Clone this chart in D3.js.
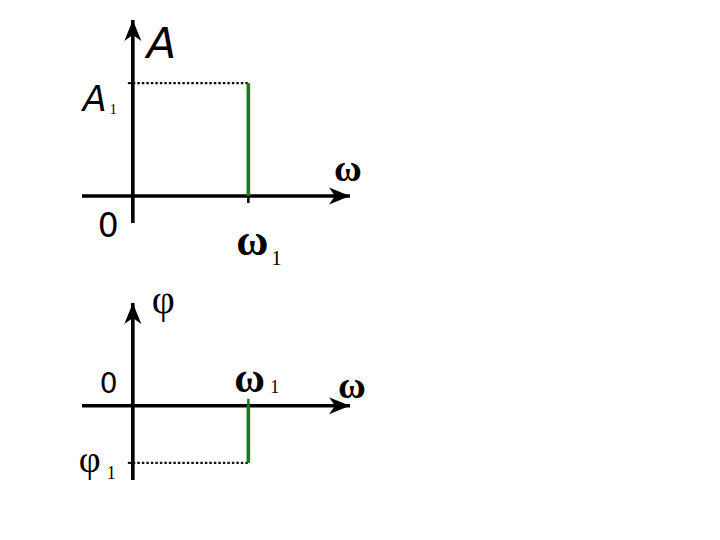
<!DOCTYPE html>
<html>
<head>
<meta charset="utf-8">
<script src="https://cdn.jsdelivr.net/npm/d3@7"></script>
<style>
  body { margin: 0; background: #fff; }
</style>
</head>
<body>
<div id="graph"></div>
<script>
// Spectrum data: one harmonic at omega1
var freqValues = [1];        // omega1
var ampValues = [1];         // A1
var phaseValues = [-0.5];    // phi1 (negative)

// Domains (in data units) for each panel
var freqDomain = [-0.44, 1.88];
var ampDomain = [-0.24, 1.56];
var phaseDomain = [-0.65, 0.9];

// Labels
var ampLabels = { axis: "A", value: "A", sub: "1" };
var phaseLabels = { axis: "\u03c6", value: "\u03c6", sub: "1" };
var freqLabels = { axis: "\u03c9", value: "\u03c9", sub: "1", zero: "0" };

var CanvasInfo = { width: 720, height: 540, id: "#graph" };
var green = "#138013";
var serif = "'Liberation Serif', 'DejaVu Serif', serif";
var sans = "'DejaVu Sans', Verdana, sans-serif";

var svg = d3.select(CanvasInfo.id)
            .append("svg")
            .attr("width", CanvasInfo.width)
            .attr("height", CanvasInfo.height);

// arrow head marker
svg.append("defs")
   .append("marker")
   .attr("id", "arrow")
   .attr("markerUnits", "userSpaceOnUse")
   .attr("viewBox", "-22 -11 24 22")
   .attr("refX", 0)
   .attr("refY", 0)
   .attr("markerWidth", 24)
   .attr("markerHeight", 22)
   .attr("orient", "auto")
   .append("path")
   .attr("d", "M0,0 L-21,-8.5 L-15,0 L-21,8.5 Z")
   .attr("fill", "#000");

/**
 * Draw one axis pair with arrows
 */
function DrawAxes(g, x, y)
{
    var xr = x.domain(), yr = y.domain();
    var line = d3.line().x(function(p){ return x(p[0]); }).y(function(p){ return y(p[1]); });

    g.append("path")
     .attr("d", line([[xr[0], 0], [xr[1], 0]]))
     .attr("stroke", "#000").attr("stroke-width", 3.6).attr("fill", "none")
     .attr("marker-end", "url(#arrow)");

    g.append("path")
     .attr("d", line([[0, yr[0]], [0, yr[1]]]))
     .attr("stroke", "#000").attr("stroke-width", 3.6).attr("fill", "none")
     .attr("marker-end", "url(#arrow)");
}

/**
 * Draw spectral lines with dotted guides
 */
function DrawLines(g, x, y, values, tickDir)
{
    freqValues.forEach(function(f, i)
    {
        var v = values[i];
        // dotted guide
        g.append("line")
         .attr("x1", x(0)).attr("x2", x(f))
         .attr("y1", y(v)).attr("y2", y(v))
         .attr("stroke", "#111").attr("stroke-width", 2.2)
         .attr("stroke-dasharray", "2.5,2");
        // small tick on vertical axis
        g.append("line")
         .attr("x1", x(0) - 5).attr("x2", x(0))
         .attr("y1", y(v)).attr("y2", y(v))
         .attr("stroke", "#000").attr("stroke-width", 2);
        // tick on horizontal axis
        g.append("line")
         .attr("x1", x(f)).attr("x2", x(f))
         .attr("y1", y(0)).attr("y2", y(0) + tickDir * 7)
         .attr("stroke", tickDir > 0 ? "#000" : green).attr("stroke-width", 2.5);
        // green spectral line
        g.append("line")
         .attr("x1", x(f)).attr("x2", x(f))
         .attr("y1", y(0)).attr("y2", y(v))
         .attr("stroke", green).attr("stroke-width", 3.6);
    });
}

function Label(g, txt, px, py, size, family, italic, bold)
{
    return g.append("text")
            .attr("x", px).attr("y", py)
            .attr("font-size", size)
            .attr("font-family", family)
            .attr("font-style", italic ? "italic" : "normal")
            .attr("font-weight", bold ? "bold" : "normal")
            .attr("fill", "#000")
            .text(txt);
}

// ---- Amplitude spectrum ----
var xTop = d3.scaleLinear().domain(freqDomain).range([82, 350]);
var yTop = d3.scaleLinear().domain(ampDomain).range([223, 20]);
var gTop = svg.append("g");
DrawAxes(gTop, xTop, yTop);
DrawLines(gTop, xTop, yTop, ampValues, 1);

Label(gTop, ampLabels.axis, xTop(0) + 14, yTop(ampDomain[1]) + 38, 43, sans, true, false);
Label(gTop, ampLabels.value, xTop(0) - 50, yTop(ampValues[0]) + 28, 35, sans, true, false);
Label(gTop, ampLabels.sub, xTop(0) - 23, yTop(ampValues[0]) + 31, 14, serif, false, false);
Label(gTop, freqLabels.axis, 334, yTop(0) - 15, 38, serif, false, true);
Label(gTop, freqLabels.zero, xTop(0) - 35, yTop(0) + 41, 33, sans, false, false);
Label(gTop, freqLabels.value, xTop(freqValues[0]) - 12, yTop(0) + 59, 44, serif, false, true);
Label(gTop, freqLabels.sub, xTop(freqValues[0]) + 23, yTop(0) + 69, 21, serif, false, false);

// ---- Phase spectrum ----
var xBot = d3.scaleLinear().domain(freqDomain).range([82, 350]);
var yBot = d3.scaleLinear().domain(phaseDomain).range([480, 303]);
var gBot = svg.append("g");
DrawAxes(gBot, xBot, yBot);
DrawLines(gBot, xBot, yBot, phaseValues, -1);

Label(gBot, phaseLabels.axis, xBot(0) + 19, yBot(phaseDomain[1]) + 10, 40, serif, false, false);
Label(gBot, freqLabels.zero, xBot(0) - 33, yBot(0) - 13, 28, sans, false, false);
Label(gBot, freqLabels.value, xBot(freqValues[0]) - 14, yBot(0) - 14, 42, serif, false, true);
Label(gBot, freqLabels.sub, xBot(freqValues[0]) + 22, yBot(0) - 13, 18, serif, false, false);
Label(gBot, freqLabels.axis, 338, yBot(0) - 8, 38, serif, false, true);
Label(gBot, phaseLabels.value, xBot(0) - 54, yBot(phaseValues[0]) + 9, 38, serif, false, false);
Label(gBot, phaseLabels.sub, xBot(0) - 26, yBot(phaseValues[0]) + 16, 18, serif, false, false);
</script>
</body>
</html>
